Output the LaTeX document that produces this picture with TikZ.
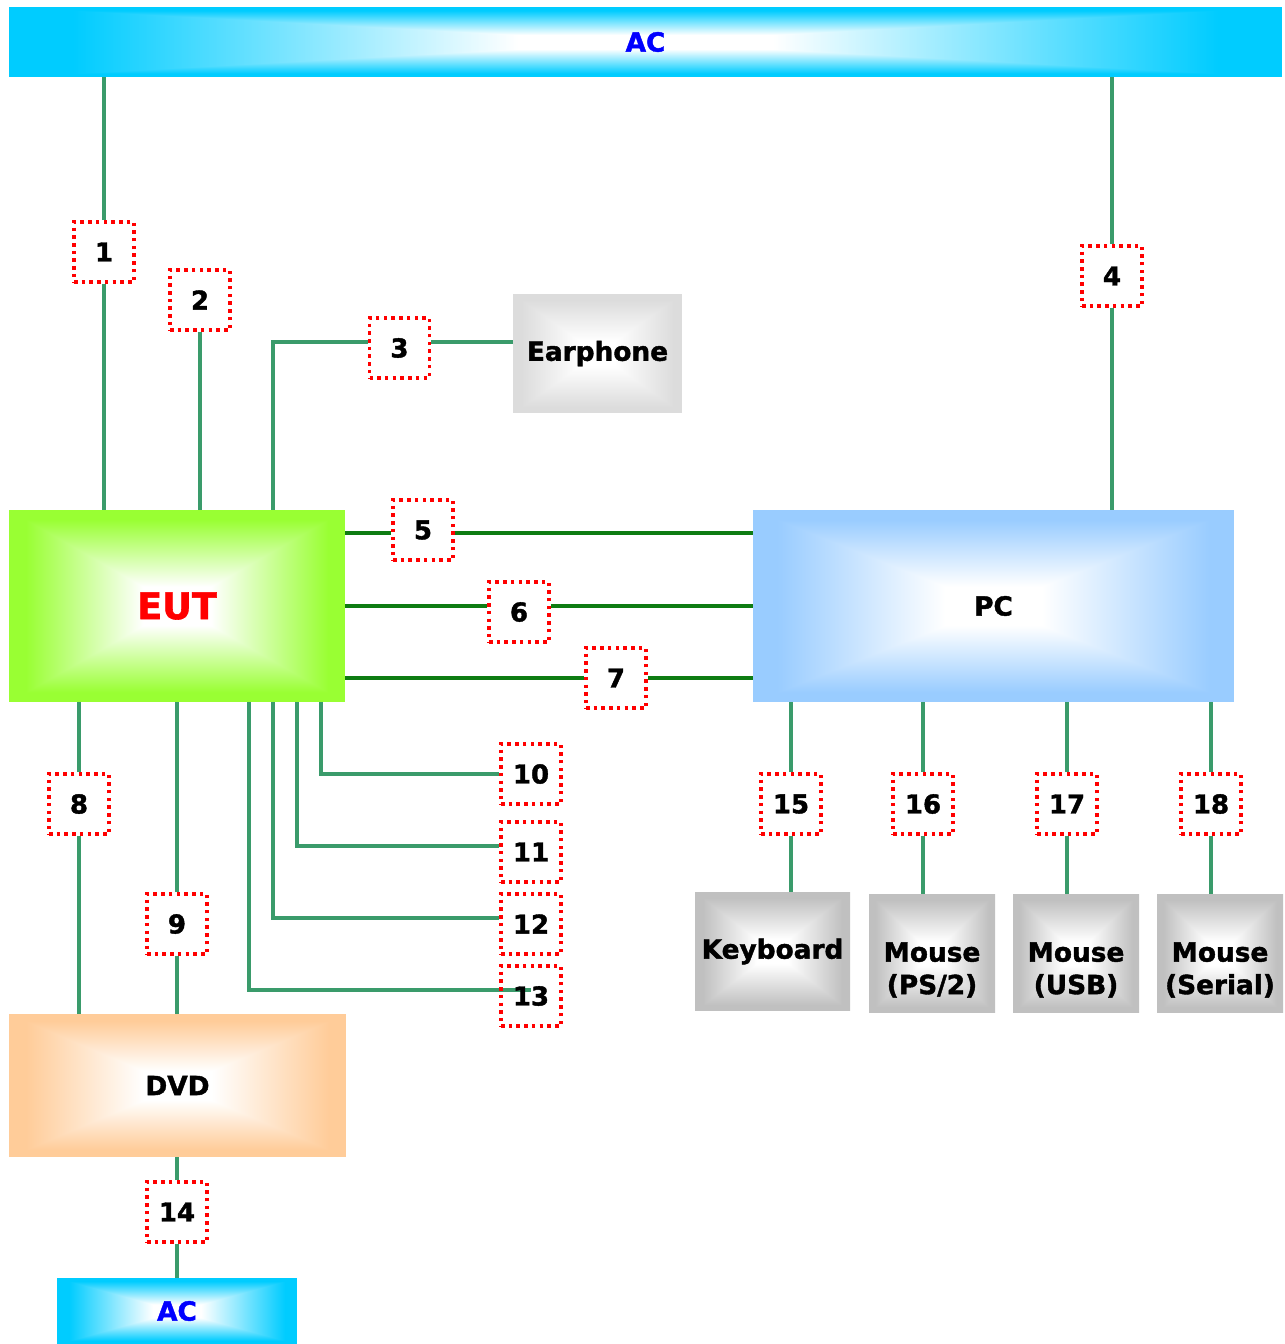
\documentclass[tikz,border=0pt]{standalone}
\usepackage{fontspec}
\setmainfont{DejaVu Sans}[BoldFeatures={FakeBold=1.5}]
\usepackage{xcolor}
\usepackage{tikz}
\usetikzlibrary{calc}
\definecolor{cwire}{HTML}{3A9B6B}
\definecolor{clink}{HTML}{0E7C12}
\definecolor{cac}{HTML}{0000FF}
\pgfdeclarelayer{bg}
\pgfsetlayers{bg,main}
% rectangular "from centre" fill: white in the middle, colour at the rim
% args: name, 1-R, 1-G, 1-B
\newcommand{\boxshading}[4]{%
  \pgfdeclarefunctionalshading{#1}{\pgfpoint{-50bp}{-50bp}}{\pgfpoint{50bp}{50bp}}{}{%
    abs exch abs 2 copy lt {exch} if pop
    25 div 0.2 sub 0.7 div
    dup 0 lt {pop 0} if dup 1 gt {pop 1} if
    dup #2 mul 1 exch sub exch
    dup #3 mul 1 exch sub exch
    #4 mul 1 exch sub}}
\boxshading{acshade}{1}{0.2}{0}
\boxshading{eutshade}{0.4}{0}{0.8}
\boxshading{pcshade}{0.4}{0.2}{0}
\boxshading{dvdshade}{0}{0.2}{0.4}
\boxshading{earshade}{0.137}{0.137}{0.137}
\boxshading{devshade}{0.247}{0.247}{0.247}

\begin{document}
\begin{tikzpicture}[x=0.02cm, y=-0.02cm,
  unit/.style={shade, inner sep=0pt, align=center, font=\fontsize{15}{18}\selectfont\bfseries},
  tag/.style={draw=red, line width=2pt, dash pattern=on 2pt off 2.4pt,
    minimum width=1.2cm, minimum height=1.2cm, inner sep=0pt,
    font=\fontsize{14.8}{16}\selectfont\bfseries},
  wire/.style={draw=cwire, line width=2pt},
  link/.style={draw=clink, line width=2.1pt}]
\useasboundingbox (0,0) rectangle (1284,1344);

% units
\node[unit, shading=acshade, minimum width=25.46cm, minimum height=1.40cm, text=cac] (acTop) at (645.5,42) {AC};
\node[unit, shading=eutshade, minimum width=6.72cm, minimum height=3.84cm, text=red,
  font=\fontsize{20.8}{24}\selectfont\bfseries] (eut) at (177,606) {\raisebox{-0.06cm}{EUT}};
\node[unit, shading=pcshade, minimum width=9.62cm, minimum height=3.84cm] (pc) at (993.5,606) {PC};
\node[unit, shading=earshade, minimum width=3.38cm, minimum height=2.38cm] (ear) at (597.5,353.5) {Earphone};
\node[unit, shading=dvdshade, minimum width=6.74cm, minimum height=2.86cm] (dvd) at (177.5,1085.5) {DVD};
\node[unit, shading=acshade, minimum width=4.80cm, minimum height=1.32cm, text=cac] (acBot) at (177,1311) {AC};
\node[unit, shading=devshade, minimum width=3.10cm, minimum height=2.38cm] (kbd) at (772.5,951.5) {Keyboard};
\foreach \m/\x/\t in {ms1/932/{(PS/2)}, ms2/1076/{(USB)}, ms3/1220/{(Serial)}}
  \node[unit, shading=devshade, minimum width=2.52cm, minimum height=2.38cm,
    label={[align=center, font=\fontsize{15}{18.5}\selectfont\bfseries, yshift=-0.33cm]center:Mouse\\\t}] (\m) at (\x,953.5) {};

% cable tags
\node[tag] (t1) at (104,252) {1};
\node[tag] (t2) at (200,300) {2};
\node[tag] (t3) at (399.5,348) {3};
\node[tag] (t4) at (1112,276) {4};
\node[tag] (t5) at (423,530) {5};
\node[tag] (t6) at (519,612) {6};
\node[tag] (t7) at (616,678) {7};
\node[tag] (t8) at (79,804) {8};
\node[tag] (t9) at (177,924) {9};
\node[tag] (t10) at (531,774) {10};
\node[tag] (t11) at (531,852) {11};
\node[tag] (t12) at (531,924) {12};
\node[tag] (t13) at (531,996) {13};
\node[tag] (t14) at (177,1212) {14};
\foreach \n/\x in {15/791, 16/923, 17/1067, 18/1211}
  \node[tag] (t\n) at (\x,804) {\n};

\coordinate (j3) at (273,342);
\coordinate (j5) at (0,533);
\coordinate (j6) at (0,606);
\coordinate (j7) at (0,678);
\coordinate (j10) at (321,774);
\coordinate (j11) at (297,846);
\coordinate (j12) at (273,918);
\coordinate (j13) at (249,990);

\begin{pgfonlayer}{bg}
\draw[wire] (acTop.south -| t1) -- (t1.north);
\draw[wire] (t1.south) -- (eut.north -| t1);
\draw[wire] (t2.south) -- (eut.north -| t2);
\draw[wire] (eut.north -| j3) -- (j3) -- (j3 -| t3.west);
\draw[wire] (t3.east |- j3) -- (j3 -| ear.west);
\draw[wire] (acTop.south -| t4) -- (t4.north);
\draw[wire] (t4.south) -- (pc.north -| t4);
\foreach \k in {5,6,7} {
  \draw[link] (eut.east |- j\k) -- (t\k.west |- j\k);
  \draw[link] (t\k.east |- j\k) -- (pc.west |- j\k);
}
\foreach \k in {8,9} {
  \draw[wire] (eut.south -| t\k) -- (t\k.north);
  \draw[wire] (t\k.south) -- (dvd.north -| t\k);
}
\foreach \k in {10,11,12}
  \draw[wire] (eut.south -| j\k) |- (t\k.west |- j\k);
\draw[wire] (eut.south -| j13) |- (t13.center |- j13);
\draw[wire] (dvd.south -| t14) -- (t14.north);
\draw[wire] (t14.south) -- (acBot.north -| t14);
\foreach \n/\d in {15/kbd, 16/ms1, 17/ms2, 18/ms3} {
  \draw[wire] (pc.south -| t\n) -- (t\n.north);
  \draw[wire] (t\n.south) -- (\d.north -| t\n);
}
\end{pgfonlayer}
\end{tikzpicture}
\end{document}
